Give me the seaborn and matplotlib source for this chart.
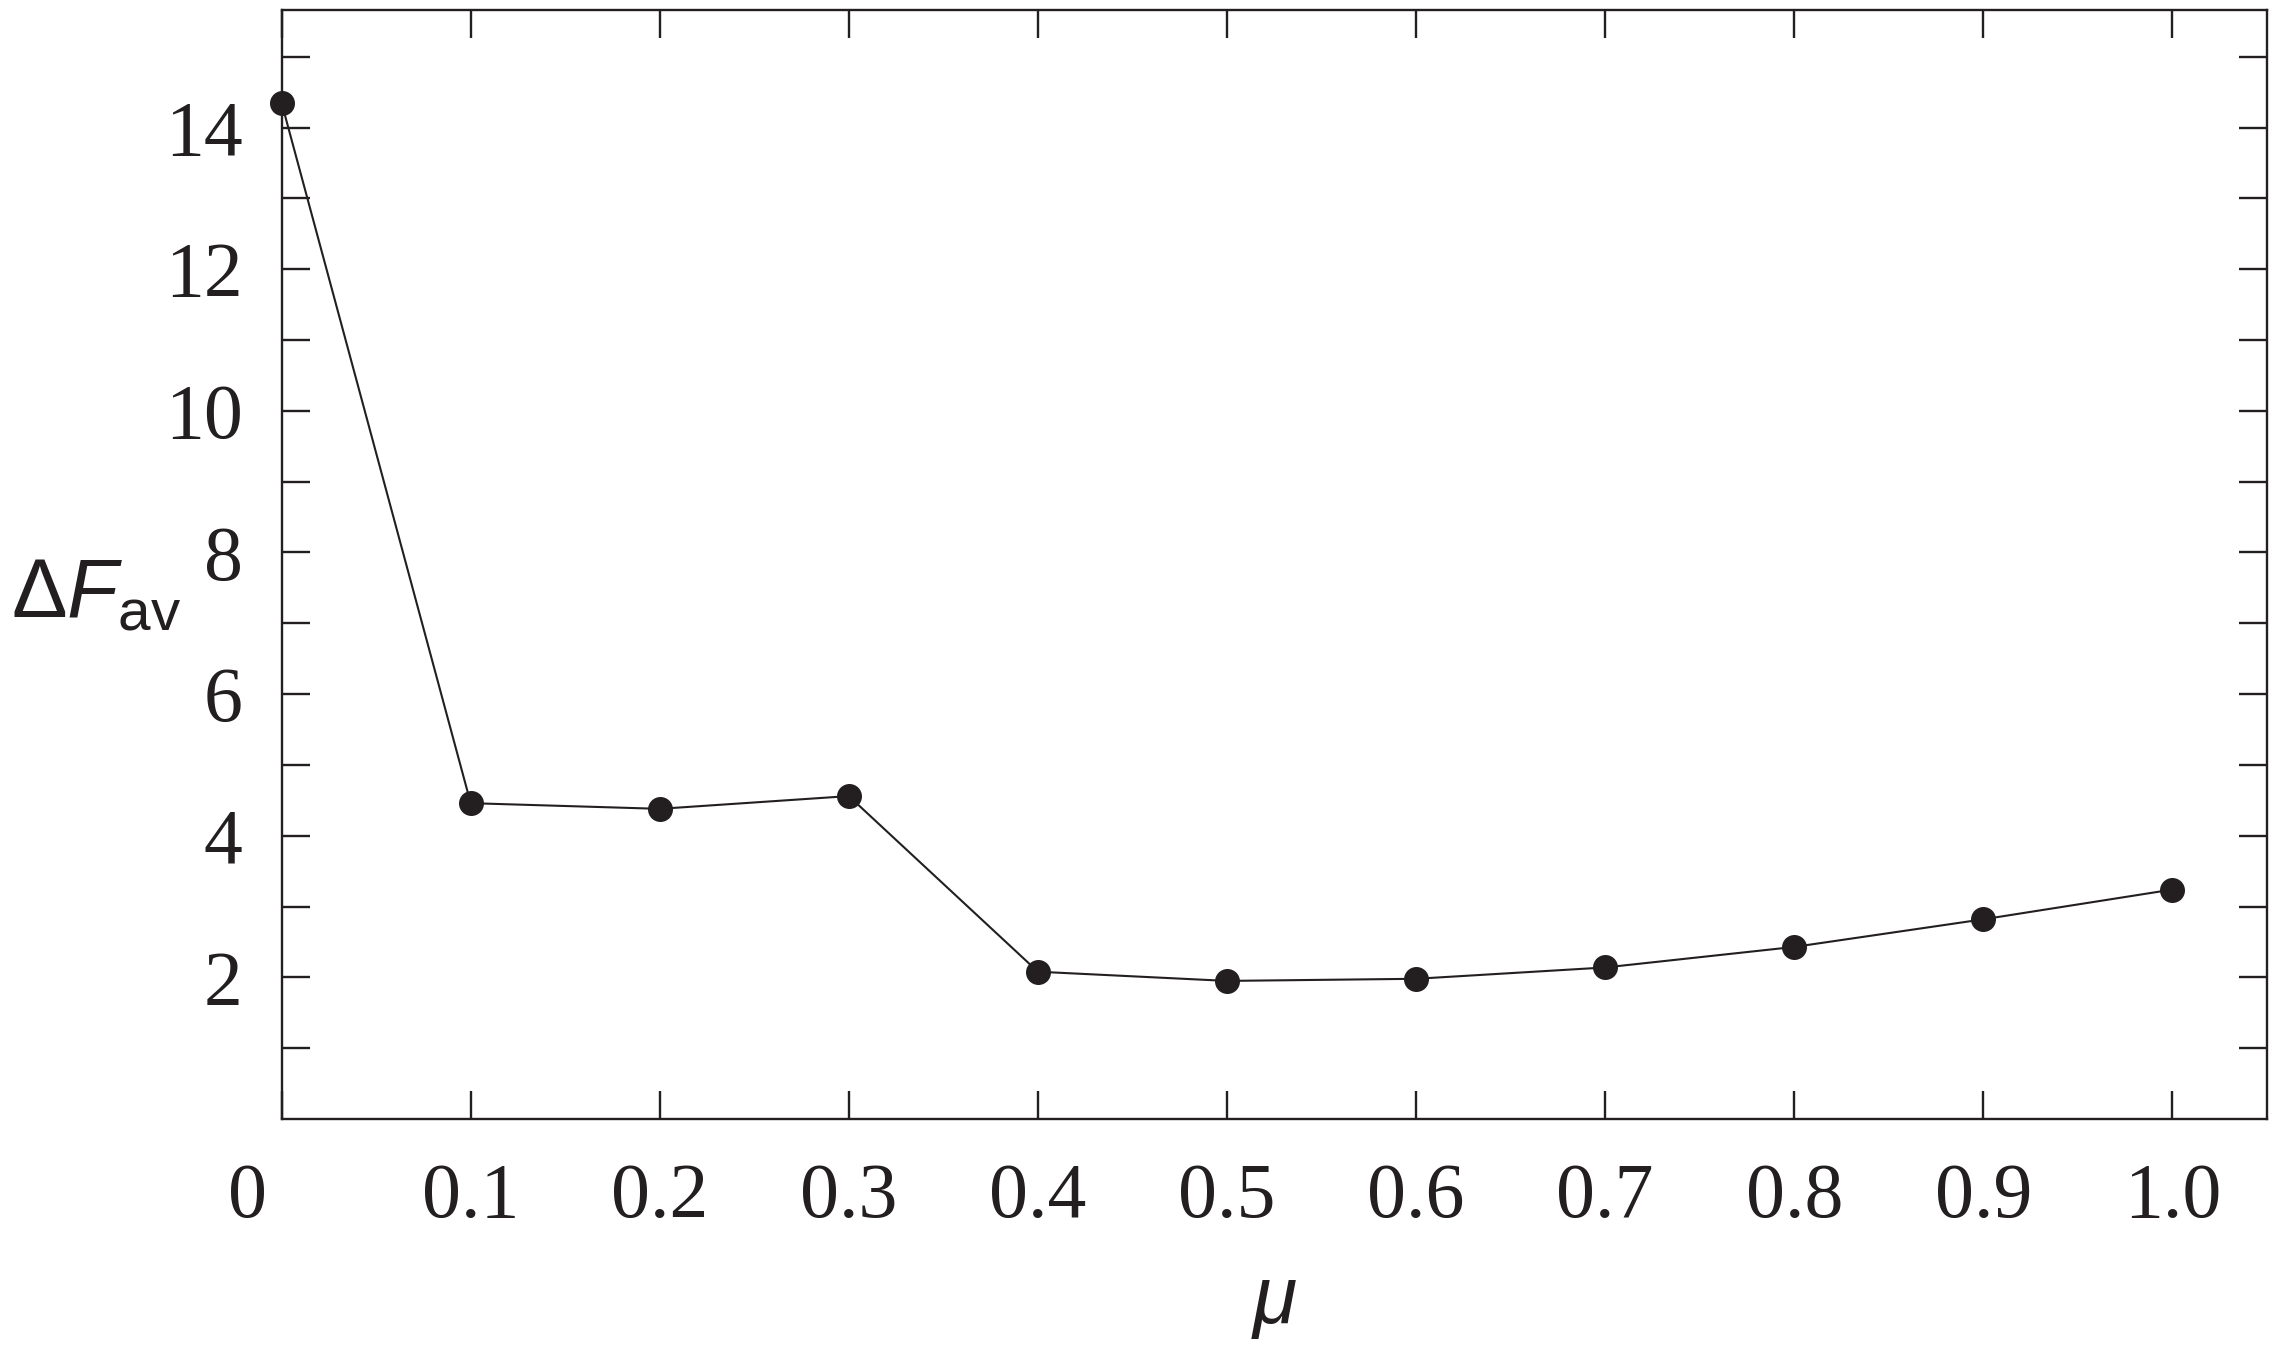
import numpy as np
import pandas as pd
import matplotlib.pyplot as plt
import matplotlib.transforms as mtransforms
import seaborn as sns

mu = [0.0, 0.1, 0.2, 0.3, 0.4, 0.5, 0.6, 0.7, 0.8, 0.9, 1.0]
dF_av = [14.35, 4.46, 4.38, 4.56, 2.08, 1.95, 1.98, 2.14, 2.43, 2.82, 3.24]

x_ticks = [0.0, 0.1, 0.2, 0.3, 0.4, 0.5, 0.6, 0.7, 0.8, 0.9, 1.0]
x_labels = ['0', '0.1', '0.2', '0.3', '0.4', '0.5', '0.6', '0.7', '0.8', '0.9', '1.0']
y_ticks = [2, 4, 6, 8, 10, 12, 14]
y_minor = [1, 3, 5, 7, 9, 11, 13, 15]

ink = '#231f20'

sns.set_style('ticks')
plt.rcParams['mathtext.fontset'] = 'custom'
plt.rcParams['mathtext.it'] = 'Liberation Sans:italic'
plt.rcParams['mathtext.rm'] = 'Liberation Sans'

df = pd.DataFrame({'mu': mu, 'dF': dF_av})

fig = plt.figure(figsize=(22.82, 13.59), dpi=100)
ax = fig.add_axes([0.1234, 0.1766, 0.9934 - 0.1234, 0.9926 - 0.1766])

sns.lineplot(data=df, x='mu', y='dF', ax=ax, color=ink, linewidth=1.5,
             marker='o', markersize=18, markeredgewidth=0, markerfacecolor=ink,
             clip_on=False, zorder=5)

ax.set_xlim(0, 1.05)
ax.set_ylim(0, 15.66)
ax.set_xticks(x_ticks)
ax.set_xticklabels(x_labels)
ax.set_yticks(y_ticks)
ax.set_yticks(y_minor, minor=True)

for s in ax.spines.values():
    s.set_visible(True)
    s.set_linewidth(1.7)
    s.set_color(ink)

ax.tick_params(axis='both', which='both', direction='in', length=20.5, width=1.7,
               color=ink, top=True, right=True)
ax.tick_params(axis='x', pad=31, labelsize=56, labelcolor=ink)
ax.tick_params(axis='y', pad=28, labelsize=56, labelcolor=ink)
for lab in ax.get_xticklabels() + ax.get_yticklabels():
    lab.set_fontfamily('Liberation Serif')

# the "0" sits a little left of the axis corner
zero = ax.get_xticklabels()[0]
zero.set_transform(zero.get_transform() +
                   mtransforms.ScaledTranslation(-0.34, 0, fig.dpi_scale_trans))

ax.set_xlabel('')
ax.set_ylabel('')
fig.text(0.005, 1 - 617 / 1359, r'$\mathit{ΔF}_{\mathrm{av}}$', fontsize=60,
         color=ink, ha='left', va='baseline')
fig.text((0.1234 + 0.9934) / 2, 1 - 1323 / 1359, 'μ', fontsize=58,
         fontfamily='Liberation Sans', fontstyle='italic', color=ink,
         ha='center', va='baseline')

fig.savefig('out.png', dpi=100, facecolor='white')
